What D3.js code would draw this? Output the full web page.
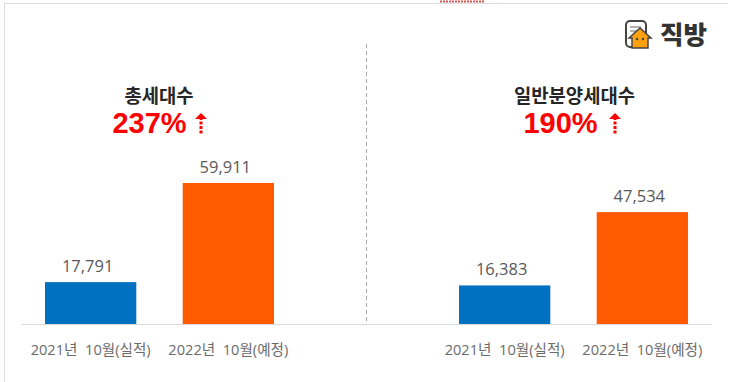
<!DOCTYPE html>
<html>
<head>
<meta charset="utf-8">
<script src="https://cdn.jsdelivr.net/npm/d3@7"></script>
<style>
    html, body { margin: 0; padding: 0; background: #fff; }
    text { font-family: "Open Sans", "Noto Sans CJK KR", sans-serif; white-space: pre; }
    .axis text { font-size: 14.6px; fill: #6b6b6b; }
    .value { font-size: 16.5px; fill: #595959; text-anchor: middle; }
    .title { font-size: 18.8px; font-weight: 700; fill: #262626; text-anchor: middle; }
    .rate { font-family: "Liberation Sans", sans-serif; font-size: 29px; font-weight: 700; fill: #ff0000; text-anchor: middle; }
</style>
</head>
<body>
<svg id="chart" width="730" height="382"></svg>
<script>
const periods = ["2021년  10월(실적)", "2022년  10월(예정)"];
const titles = ["총세대수", "일반분양세대수"];
const rates = ["237%", "190%"];
const totalUnits = [17791, 59911];
const saleUnits = [16383, 47534];
const barColors = ["#0070c0", "#ff5a00"];

const svg = d3.select("#chart");
const baseY = 324;

// screenshot frame
svg.append("line").attr("x1", 4).attr("x2", 728).attr("y1", 3.5).attr("y2", 3.5).attr("stroke", "#dcdcdc");
svg.append("line").attr("x1", 4.5).attr("x2", 4.5).attr("y1", 3).attr("y2", 382).attr("stroke", "#dcdcdc");
svg.append("line").attr("x1", 440).attr("x2", 484).attr("y1", 1.5).attr("y2", 1.5)
    .attr("stroke", "#d9534f").attr("stroke-width", 2).attr("stroke-dasharray", "2 1");

let yScale = d3.scaleLinear().domain([0, 59911]).range([baseY, 183]);

function drawPanel(values, title, rate, x0, x1, titleX, rateX, arrowX) {
    let xScale = d3.scaleBand().domain(periods).range([x0, x1]).paddingInner(0.337);
    let g = svg.append("g");

    g.selectAll("rect").data(values).join("rect")
        .attr("x", (d, i) => xScale(periods[i]))
        .attr("y", d => yScale(d))
        .attr("width", xScale.bandwidth())
        .attr("height", d => baseY - yScale(d))
        .attr("fill", (d, i) => barColors[i]);

    g.selectAll("text.value").data(values).join("text")
        .attr("class", "value")
        .attr("x", (d, i) => xScale(periods[i]) + xScale.bandwidth() / 2 - 3)
        .attr("y", d => yScale(d) - 10)
        .text(d => d3.format(",")(d));

    let axis = d3.axisBottom(xScale).tickSize(0).tickPadding(21);
    let a = g.append("g").attr("class", "axis").attr("transform", "translate(0," + baseY + ")").call(axis);
    a.select(".domain").remove();

    g.append("text").attr("class", "title").attr("x", titleX).attr("y", 103).text(title);
    g.append("text").attr("class", "rate").attr("x", rateX).attr("y", 133).text(rate);

    // dotted up arrow
    g.append("line").attr("x1", arrowX).attr("x2", arrowX).attr("y1", 117).attr("y2", 134)
        .attr("stroke", "#ff0000").attr("stroke-width", 3).attr("stroke-dasharray", "3 1.5");
    g.append("path").attr("d", "M" + (arrowX - 6) + ",119 L" + arrowX + ",113 L" + (arrowX + 6) + ",119 Z")
        .attr("fill", "#ff0000");
}

drawPanel(totalUnits, titles[0], rates[0], 45, 274, 159, 149.5, 201);
drawPanel(saleUnits, titles[1], rates[1], 459, 688, 574.5, 560.5, 615);

// baseline and divider
svg.append("line").attr("x1", 22).attr("x2", 712).attr("y1", baseY + 0.5).attr("y2", baseY + 0.5).attr("stroke", "#d9d9d9");
svg.append("line").attr("x1", 366.5).attr("x2", 366.5).attr("y1", 44).attr("y2", 322)
    .attr("stroke", "#a6a6a6").attr("stroke-dasharray", "4 3");

// logo
let logo = svg.append("g").attr("transform", "translate(625,20)");
logo.append("rect").attr("x", 1).attr("y", 1).attr("width", 20).attr("height", 26).attr("rx", 4)
    .attr("fill", "#fff").attr("stroke", "#444").attr("stroke-width", 2);
logo.append("path").attr("d", "M5,7 H16 M5,11 H12").attr("stroke", "#999").attr("stroke-width", 1.5);
logo.append("path").attr("d", "M4,18 L15,8 L26,18 L23,18 L23,28 L7,28 L7,18 Z")
    .attr("fill", "#ffa011").attr("stroke", "#444").attr("stroke-width", 1.5);
logo.append("circle").attr("cx", 12).attr("cy", 19).attr("r", 1.2).attr("fill", "#444");
logo.append("circle").attr("cx", 18).attr("cy", 19).attr("r", 1.2).attr("fill", "#444");
svg.append("text").attr("x", 660).attr("y", 44).attr("font-size", 25.5).attr("font-weight", 900)
    .attr("fill", "#333").style("font-family", '"Noto Sans CJK KR"').text("직방");
</script>
</body>
</html>
